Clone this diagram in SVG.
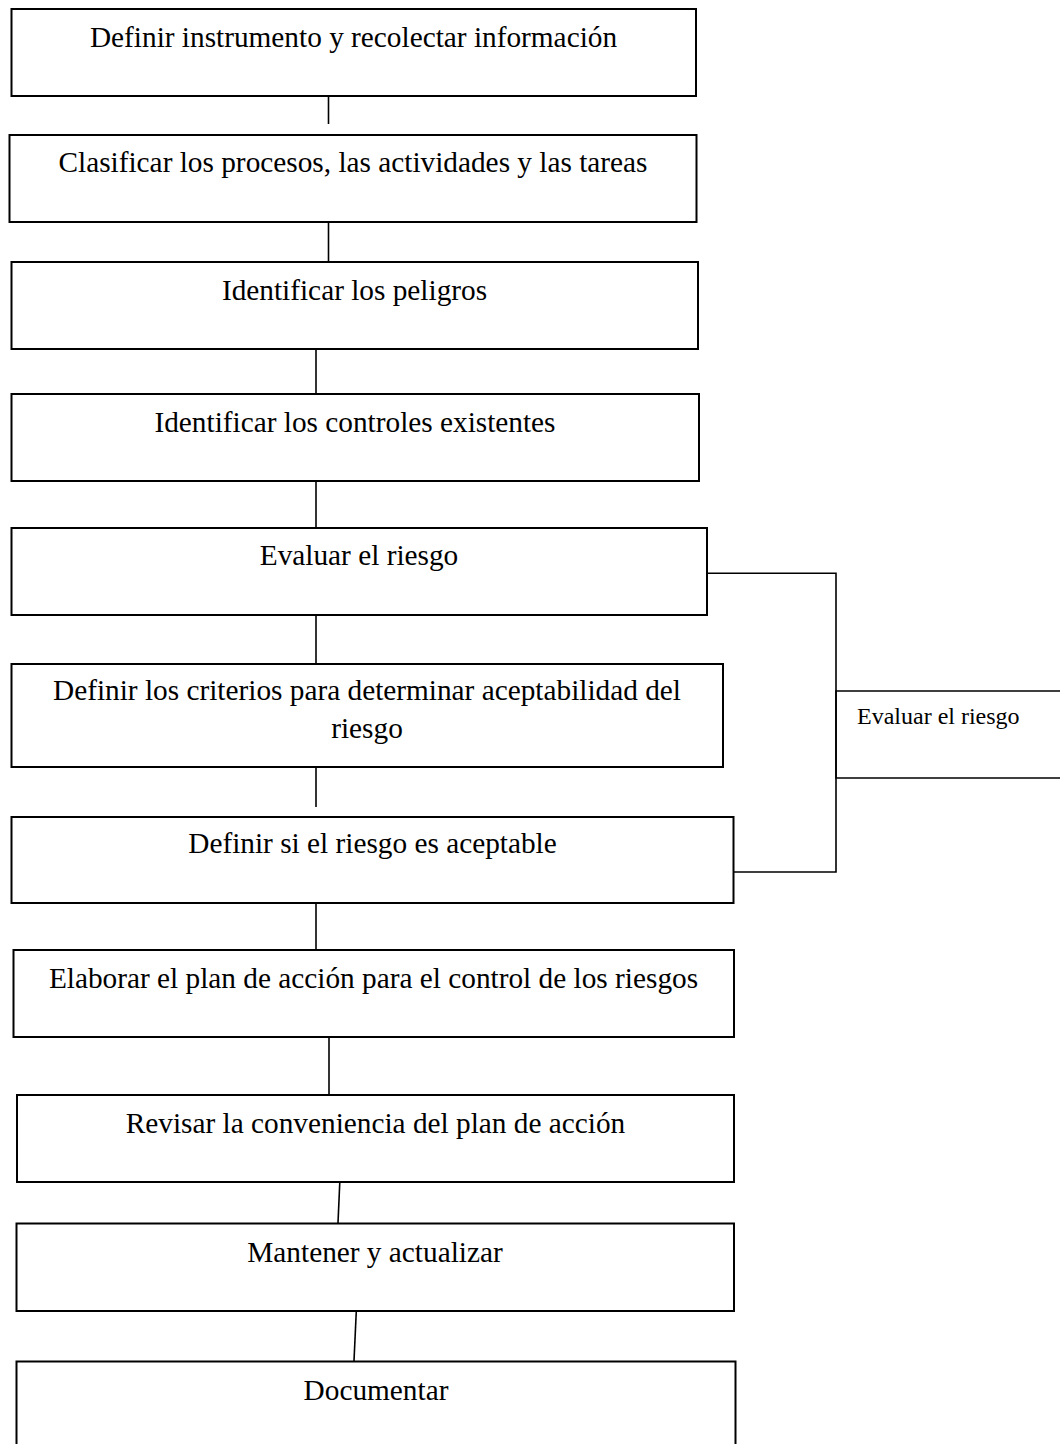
<svg xmlns="http://www.w3.org/2000/svg" width="1060" height="1444" viewBox="0 0 1060 1444">
<style>
.box{fill:#fff;stroke:#000;stroke-width:2}
.ln{fill:none;stroke:#000;stroke-width:1.6}
.t{font-family:"Liberation Serif","Times New Roman",serif;font-size:29.3px;fill:#000;text-anchor:middle}
.s{font-family:"Liberation Serif","Times New Roman",serif;font-size:24px;fill:#000}
</style>
<rect width="1060" height="1444" fill="#fff"/>
<g id="connectors">
<line class="ln" x1="328.5" y1="96" x2="328.5" y2="124"/>
<line class="ln" x1="328.5" y1="222" x2="328.5" y2="262"/>
<line class="ln" x1="316" y1="349" x2="316" y2="394"/>
<line class="ln" x1="316" y1="481" x2="316" y2="528"/>
<line class="ln" x1="316" y1="615" x2="316" y2="664"/>
<line class="ln" x1="316" y1="767" x2="316" y2="807"/>
<line class="ln" x1="316" y1="903" x2="316" y2="950"/>
<line class="ln" x1="329" y1="1037" x2="329" y2="1095"/>
<line class="ln" x1="339.8" y1="1182" x2="338" y2="1223"/>
<line class="ln" x1="356.3" y1="1311" x2="354" y2="1361"/>
<path class="ln" d="M707,573.3 H836 V872 H731"/>
</g>
<g id="n1"><rect class="box" x="11.5" y="9" width="684.5" height="87"/><text class="t" x="353.5" y="47">Definir instrumento y recolectar información</text></g>
<g id="n2"><rect class="box" x="9.5" y="135" width="687" height="87"/><text class="t" x="353" y="172">Clasificar los procesos, las actividades y las tareas</text></g>
<g id="n3"><rect class="box" x="11.5" y="262" width="686.5" height="87"/><text class="t" x="354.5" y="300">Identificar los peligros</text></g>
<g id="n4"><rect class="box" x="11.5" y="394" width="687.5" height="87"/><text class="t" x="355" y="432">Identificar los controles existentes</text></g>
<g id="n5"><rect class="box" x="11.5" y="528" width="695.5" height="87"/><text class="t" x="359" y="565">Evaluar el riesgo</text></g>
<g id="n6"><rect class="box" x="11.5" y="664" width="711.5" height="103"/><text class="t" x="367" y="700">Definir los criterios para determinar aceptabilidad del</text><text class="t" x="367" y="738">riesgo</text></g>
<g id="n7"><rect class="box" x="11.5" y="817" width="722" height="86"/><text class="t" x="372.5" y="853">Definir si el riesgo es aceptable</text></g>
<g id="n8"><rect class="box" x="13.5" y="950" width="720.5" height="87"/><text class="t" x="373.5" y="988">Elaborar el plan de acción para el control de los riesgos</text></g>
<g id="n9"><rect class="box" x="17" y="1095" width="717" height="87"/><text class="t" x="375.5" y="1133">Revisar la conveniencia del plan de acción</text></g>
<g id="n10"><rect class="box" x="16.5" y="1223.5" width="717.5" height="87.5"/><text class="t" x="375" y="1261.5">Mantener y actualizar</text></g>
<g id="n11"><rect class="box" x="16.5" y="1361.5" width="719" height="100"/><text class="t" x="376" y="1400">Documentar</text></g>
<g id="n12"><path class="ln" d="M1062,691 H836 V778 H1062"/><text class="s" x="857" y="724">Evaluar el riesgo</text></g>
</svg>
